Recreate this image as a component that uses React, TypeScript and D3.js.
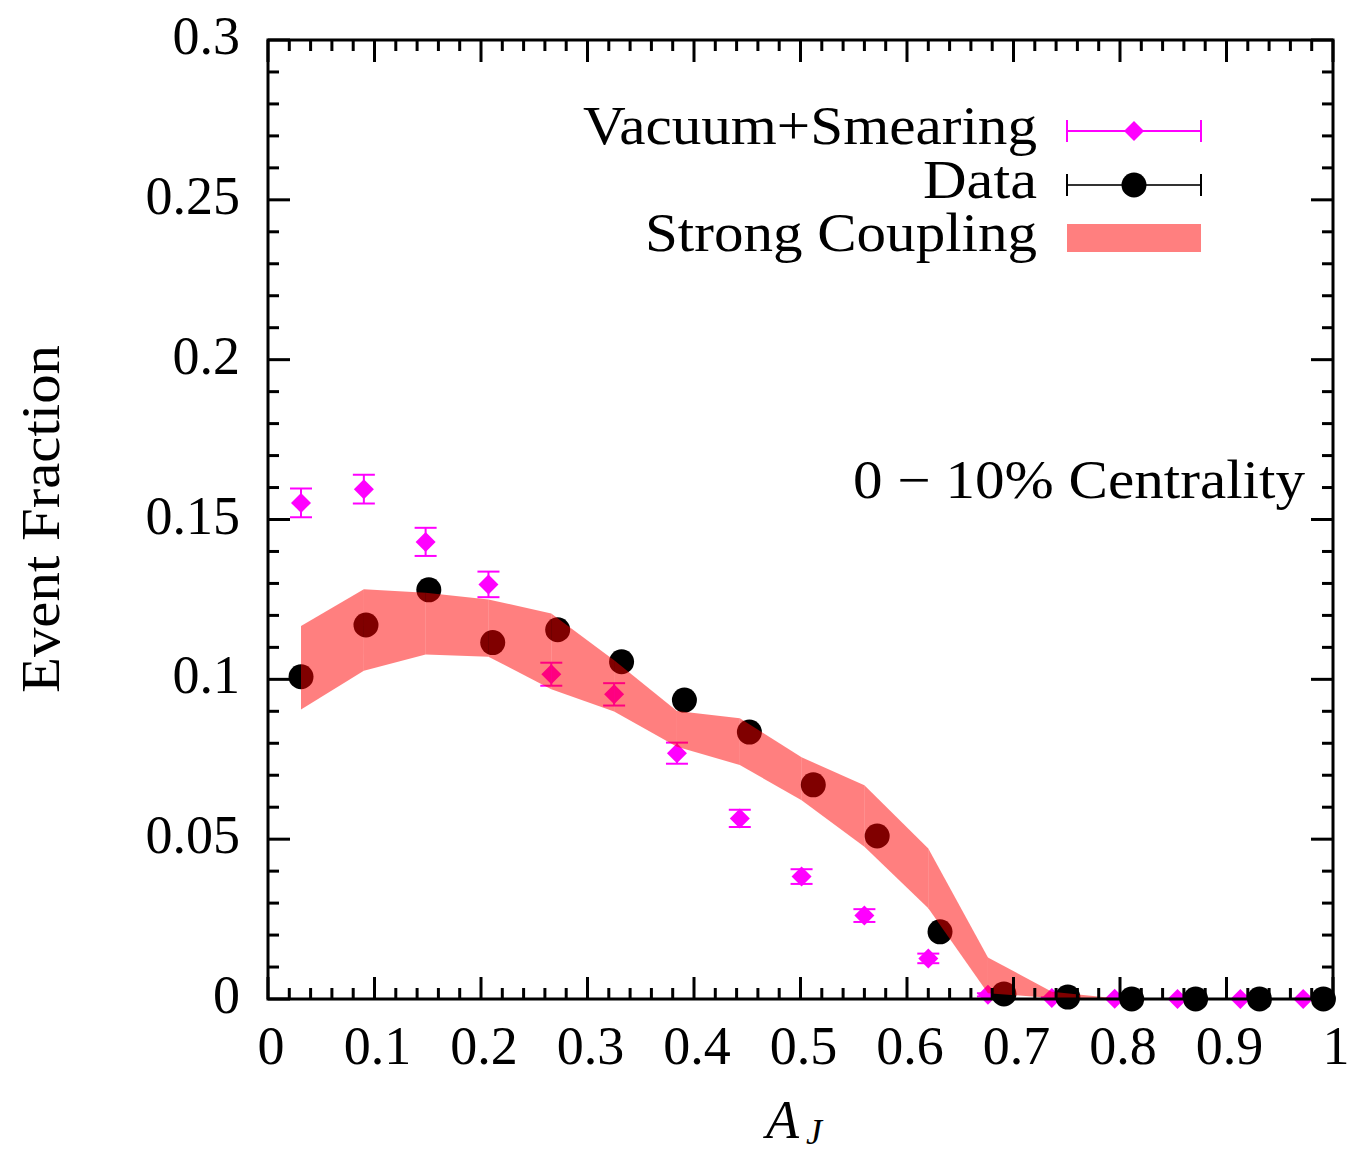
import React from "react";
import * as d3 from "d3";

const xVac = [0.031, 0.090, 0.148, 0.207, 0.266, 0.325, 0.384, 0.443, 0.501, 0.560, 0.620, 0.676, 0.736, 0.795, 0.854, 0.913, 0.972];
const yVac = [0.1552, 0.1595, 0.1430, 0.1297, 0.1016, 0.0953, 0.0769, 0.0565, 0.0383, 0.0261, 0.0127, 0.0013, 0.0003, 0.0001, 0, 0, 0];
const errVac = [0.0045, 0.0045, 0.0044, 0.0040, 0.0036, 0.0035, 0.0033, 0.0027, 0.0023, 0.0020, 0.0015, 0.0005, 0.0002, 0, 0, 0, 0];

const xData = [0.031, 0.092, 0.151, 0.211, 0.272, 0.332, 0.391, 0.452, 0.512, 0.572, 0.631, 0.691, 0.751, 0.811, 0.871, 0.931, 0.991];
const yData = [0.1008, 0.117, 0.128, 0.1115, 0.1155, 0.1055, 0.0935, 0.0835, 0.067, 0.051, 0.021, 0.0016, 0.0006, 0, 0, 0, 0];

const xBand = xVac;
const bandHi = [0.1167, 0.1282, 0.1271, 0.1250, 0.1206, 0.1060, 0.0901, 0.0878, 0.0756, 0.0669, 0.0471, 0.0130, 0.0023, 0.0002, 0, 0, 0];
const bandLo = [0.0906, 0.1027, 0.1078, 0.1071, 0.0969, 0.0899, 0.0789, 0.0732, 0.0622, 0.0476, 0.0284, 0.0018, 0.0003, 0, 0, 0, 0];

const xTicks = [0, 0.1, 0.2, 0.3, 0.4, 0.5, 0.6, 0.7, 0.8, 0.9, 1];
const xTickLabels = ["0", "0.1", "0.2", "0.3", "0.4", "0.5", "0.6", "0.7", "0.8", "0.9", "1"];
const yTicks = [0, 0.05, 0.1, 0.15, 0.2, 0.25, 0.3];
const yTickLabels = ["0", "0.05", "0.1", "0.15", "0.2", "0.25", "0.3"];

const legendLabels = ["Vacuum+Smearing", "Data", "Strong Coupling"];
const legendWidths = [454, 114, 392];

const W = 1355, H = 1154;
const L = 268, R = 1333, T = 40, B = 999;
const FONT = "'Liberation Serif', 'Times New Roman', serif";

export default function App() {
  const x = d3.scaleLinear().domain([0, 1]).range([L, R]);
  const y = d3.scaleLinear().domain([0, 0.3]).range([B, T]);

  const xMinor = d3.range(0, 51).map((i) => i * 0.02);
  const yMinor = d3.range(0, 31).map((i) => i * 0.01);
  const isMajorX = (v: number) => Math.abs(v * 10 - Math.round(v * 10)) < 1e-6;
  const isMajorY = (v: number) => Math.abs(v * 20 - Math.round(v * 20)) < 1e-6;

  const segs = d3.range(0, xBand.length - 1).map((i) => {
    const area = d3
      .area<number>()
      .x((j) => x(xBand[j]))
      .y0((j) => y(bandLo[j]))
      .y1((j) => y(bandHi[j]));
    return area([i, i + 1]) as string;
  });

  const diamond = (cx: number, cy: number, r: number) =>
    `M${cx},${cy - r}L${cx + r},${cy}L${cx},${cy + r}L${cx - r},${cy}Z`;

  const MAJ = 22, MIN = 11;
  const legX0 = 1067, legX1 = 1201, legXc = 1134;
  const rowY = [131, 185, 238];

  return (
    <svg width={W} height={H} style={{ display: "block", position: "absolute", left: 0, top: 0 }} fontFamily={FONT}>
      <rect x={0} y={0} width={W} height={H} fill="white" />

      {/* vacuum+smearing error bars and diamonds */}
      <g>
        {xVac.map((xv, i) => {
          const cx = x(xv);
          const e = errVac[i];
          if (e <= 0) return null;
          const y1 = y(yVac[i] + e), y0 = y(yVac[i] - e);
          return (
            <g key={"ev" + i} stroke="#ff00ff" strokeWidth={2}>
              <line x1={cx} x2={cx} y1={y1} y2={y0} />
              <line x1={cx - 11} x2={cx + 11} y1={y1} y2={y1} />
              <line x1={cx - 11} x2={cx + 11} y1={y0} y2={y0} />
            </g>
          );
        })}
        {xVac.map((xv, i) => (
          <path key={"dv" + i} d={diamond(x(xv), y(yVac[i]), 10)} fill="#ff00ff" />
        ))}
      </g>

      {/* data */}
      <g>
        {xData.map((xv, i) => (
          <circle key={"dd" + i} cx={x(xv)} cy={y(yData[i])} r={12.5} fill="black" />
        ))}
      </g>

      {/* strong coupling band */}
      <g>
        {segs.map((d, i) => (
          <path key={"b" + i} d={d} fill="rgb(255,0,0)" fillOpacity={0.5} />
        ))}
      </g>

      {/* ticks */}
      <g stroke="black" strokeWidth={3}>
        {xMinor.map((v, i) => {
          const len = isMajorX(v) ? MAJ : MIN;
          const px = x(v);
          return (
            <g key={"xt" + i}>
              <line x1={px} x2={px} y1={B} y2={B - len} />
              <line x1={px} x2={px} y1={T} y2={T + len} />
            </g>
          );
        })}
        {yMinor.map((v, i) => {
          const len = isMajorY(v) ? MAJ : MIN;
          const py = y(v);
          return (
            <g key={"yt" + i}>
              <line x1={L} x2={L + len} y1={py} y2={py} />
              <line x1={R} x2={R - len} y1={py} y2={py} />
            </g>
          );
        })}
        <rect x={L} y={T} width={R - L} height={B - T} fill="none" />
      </g>

      {/* tick labels */}
      <g fontSize={54} fill="black">
        {xTicks.map((v, i) => (
          <text key={"xl" + i} x={x(v) + 3} y={1064} textAnchor="middle">
            {xTickLabels[i]}
          </text>
        ))}
        {yTicks.map((v, i) => (
          <text key={"yl" + i} x={240} y={y(v) + 14} textAnchor="end">
            {yTickLabels[i]}
          </text>
        ))}
      </g>

      {/* axis titles */}
      <text
        x={0}
        y={0}
        fontSize={54}
        textAnchor="middle"
        textLength={348}
        lengthAdjust="spacingAndGlyphs"
        transform={`translate(59,519) rotate(-90)`}
      >
        Event Fraction
      </text>
      <text x={766} y={1138} fontSize={54} fontStyle="italic">A</text>
      <text x={806} y={1144} fontSize={36} fontStyle="italic">J</text>

      {/* annotation */}
      <text x={1305} y={498} fontSize={54} textAnchor="end" textLength={452} lengthAdjust="spacingAndGlyphs">
        0 − 10% Centrality
      </text>

      {/* legend */}
      <g fontSize={54}>
        {legendLabels.map((t, i) => (
          <text
            key={"lg" + i}
            x={1037}
            y={rowY[i] + 13}
            textAnchor="end"
            textLength={legendWidths[i]}
            lengthAdjust="spacingAndGlyphs"
          >
            {t}
          </text>
        ))}
        <g stroke="#ff00ff" strokeWidth={2}>
          <line x1={legX0} x2={legX1} y1={rowY[0]} y2={rowY[0]} />
          <line x1={legX0} x2={legX0} y1={rowY[0] - 11} y2={rowY[0] + 11} />
          <line x1={legX1} x2={legX1} y1={rowY[0] - 11} y2={rowY[0] + 11} />
        </g>
        <path d={diamond(legXc, rowY[0], 10)} fill="#ff00ff" />
        <g stroke="#333" strokeWidth={2}>
          <line x1={legX0} x2={legX1} y1={rowY[1]} y2={rowY[1]} />
          <line x1={legX0} x2={legX0} y1={rowY[1] - 11} y2={rowY[1] + 11} stroke="black" />
          <line x1={legX1} x2={legX1} y1={rowY[1] - 11} y2={rowY[1] + 11} stroke="black" />
        </g>
        <circle cx={legXc} cy={rowY[1]} r={12.5} fill="black" />
        <rect x={legX0} y={224} width={legX1 - legX0} height={28} fill="rgb(255,0,0)" fillOpacity={0.5} />
      </g>
    </svg>
  );
}
